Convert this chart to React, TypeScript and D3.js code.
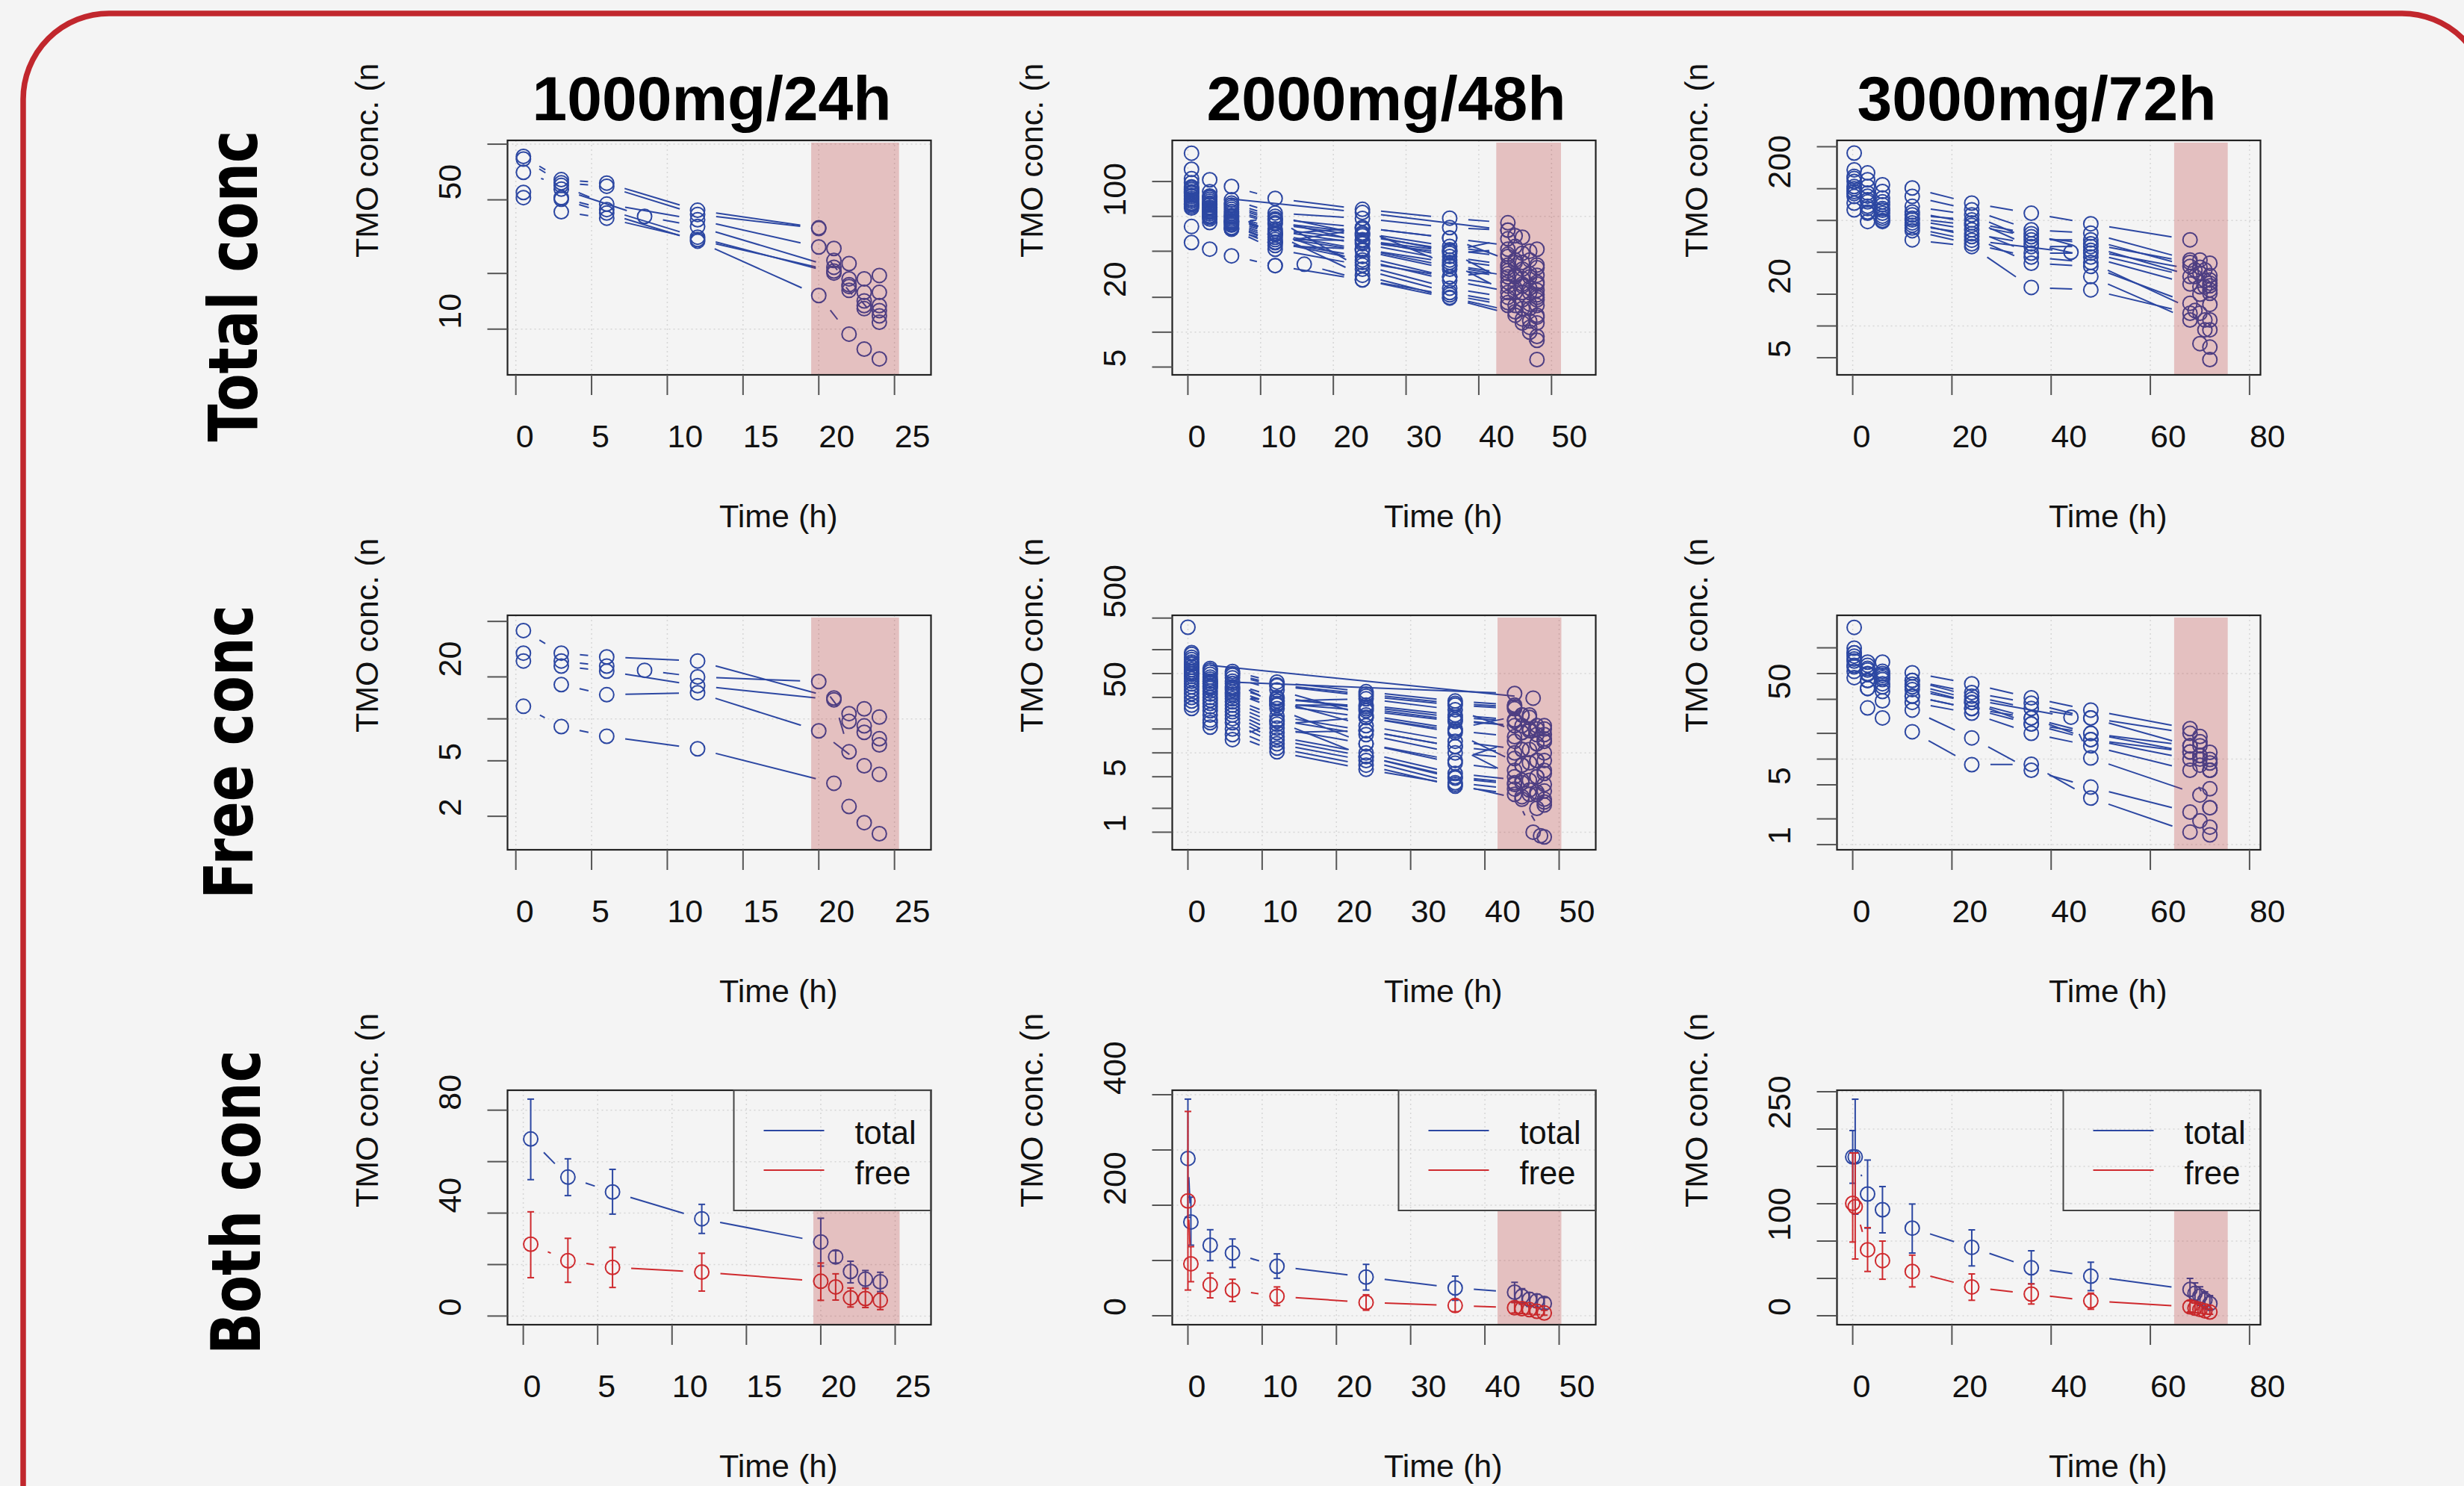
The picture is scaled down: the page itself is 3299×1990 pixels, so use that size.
import * as d3 from "d3";
import React from "react";

type Pt = [number, number];

const W = 3299;
const H = 1990;
const BG = "#f4f4f4";
const BLUE = "#2c47a2";
const RED = "#cf2a2e";
const PINK = "rgba(178,34,34,0.25)";
const FONT = "'Liberation Sans', Arial, Helvetica, sans-serif";

// ---------- data: individual profiles [time (h), conc] ----------
const total1000: Pt[][] = [
  [[0.5, 85.9], [3, 64.3], [6, 61.6], [12, 43.9], [20, 35.3], [21, 27.3], [22, 22.6], [23, 18.7], [24, 19.5]],
  [[0.5, 83.1], [3, 61.8], [6, 59.2], [12, 41.7], [20, 35.0], [21, 23.5], [22, 18.7], [23, 15.8], [24, 15.8]],
  [[0.5, 70.4], [3, 59.8], [6, 47.4], [12, 39.0], [20, 27.8], [22, 17.4], [23, 14.2], [24, 13.4]],
  [[0.5, 54.8], [3, 57.2], [8.5, 40.7], [12, 35.9], [21, 21.6], [22, 16.2], [23, 13.4], [24, 12.6]],
  [[0.5, 51.4], [3, 51.4], [6, 44.3], [12, 31.4], [21, 20.1], [23, 12.9], [24, 11.8]],
  [[3, 50.4], [6, 42.4], [12, 29.9], [20, 15.2], [22, 9.4], [23, 7.8], [24, 6.9]],
  [[3, 43.1], [6, 39.8], [12, 30.5], [21, 20.6], [22, 17.0], [24, 10.9]],
];

const total2000: Pt[][] = [
  [[0.5, 351], [3, 207], [6, 181], [12, 143], [24, 115], [36, 96.5], [44, 88], [46, 66], [48, 52]],
  [[0.5, 255], [3, 163], [6, 139], [12, 107], [24, 96], [36, 80], [44, 76], [45, 68], [47, 50]],
  [[0.5, 212], [3, 150], [6, 130], [12, 100], [24, 70], [36, 50], [44, 64], [46, 48], [48, 38]],
  [[0.5, 195], [3, 145], [6, 125], [12, 95], [24, 80], [36, 65], [45, 55], [47, 42], [48, 36]],
  [[0.5, 180], [3, 140], [6, 120], [12, 92], [24, 60], [36, 48], [44, 52], [46, 40], [48, 31]],
  [[0.5, 170], [3, 135], [6, 115], [12, 88], [24, 72], [36, 55], [44, 47], [45, 42], [47, 32]],
  [[0.5, 163], [3, 130], [6, 110], [12, 86], [24, 68], [36, 51.4], [44, 45], [46, 35], [48, 27]],
  [[0.5, 158], [3, 125], [6, 106], [12, 70], [24, 80], [36, 65], [45, 40], [47, 30], [48, 26]],
  [[0.5, 152], [3, 120], [6, 102], [12, 78], [24, 62.8], [36, 45], [44, 38], [46, 29], [48, 23]],
  [[0.5, 148], [3, 118], [6, 98], [12, 75], [24, 58], [36, 42], [44, 36], [45, 31], [47, 24]],
  [[0.5, 143], [3, 115], [6, 95], [12, 72], [24, 40], [36, 30], [44, 34], [46, 26], [48, 20]],
  [[0.5, 139], [3, 112], [6, 92], [12, 69.7], [24, 52], [36, 37], [45, 30], [47, 22], [48, 19]],
  [[0.5, 135], [3, 108], [6, 90], [12, 66], [24, 50.7], [36, 35], [44, 30], [46, 22], [48, 17]],
  [[0.5, 130], [3, 105], [6, 88], [12, 63], [24, 62], [36, 50], [44, 27], [45, 24], [47, 17.5]],
  [[0.5, 126], [3, 101], [6, 86], [12, 60], [24, 45], [36, 30], [44, 25], [46, 19], [48, 14]],
  [[0.5, 122], [3, 98], [6, 84], [12, 59.5], [24, 42], [36, 28], [45, 22], [47, 16], [48, 13.5]],
  [[0.5, 118], [3, 95], [6, 80], [12, 56], [24, 52], [36, 40], [44, 22], [46, 16], [48, 12]],
  [[0.5, 128], [3, 100], [6, 77.7], [12, 52], [24, 37.9], [36, 24], [44, 20], [45, 17], [47, 12.5]],
  [[0.5, 160], [3, 110], [6, 90], [12, 95], [24, 35], [36, 22], [44, 18], [46, 13], [48, 9.2]],
  [[0.5, 175], [3, 128], [6, 100], [12, 70], [24, 31], [36, 20], [45, 15], [47, 11], [48, 8.5]],
  [[0.5, 81.7], [3, 88.5], [6, 77.7], [12, 59.5], [24, 77.7], [36, 38], [44, 32], [46, 25], [48, 21]],
  [[0.5, 59.5], [3, 52.1], [6, 45.6], [12, 37.6], [24, 28.3], [36, 21], [44, 17], [46, 12], [48, 5.8]],
  [[3, 148], [24, 108], [44, 76]],
  [[12, 37.6], [16, 38.6], [24, 28.3], [36, 19.7], [45, 14], [47, 10]],
];

const total3000: Pt[][] = [
  [[0.3, 435], [3, 282], [6, 218], [12, 203], [24, 146], [36, 117], [48, 93], [68, 65.5], [70, 42.2], [72, 39.3]],
  [[0.3, 302], [3, 243], [6, 188], [12, 169], [24, 126], [36, 81.5], [48, 75.8], [68, 42.2], [71, 34], [72, 25.4]],
  [[0.3, 262], [3, 210], [6, 163], [12, 136], [24, 113], [36, 65.5], [48, 65.5], [68, 36.7], [70, 31.6], [72, 27.3]],
  [[0.3, 234], [3, 182], [6, 141], [12, 113], [24, 101], [36, 56.6], [48, 56.6], [69, 29.4], [71, 23.5], [72, 22]],
  [[0.3, 210], [3, 157], [6, 130], [12, 101], [24, 81.5], [36, 49], [48, 49], [68, 29.4], [70, 23.5], [72, 20.4]],
  [[0.3, 188], [3, 136], [6, 117], [12, 95], [24, 70.3], [36, 39.3], [48, 36.7], [68, 16.4], [70, 13.2], [72, 11.4]],
  [[0.3, 169], [3, 117], [6, 97.7], [12, 65.5], [24, 56.6], [36, 23.2], [48, 22], [68, 13.2], [71, 9.2], [72, 6.3]],
  [[0.3, 146], [3, 97.7], [6, 105], [12, 85], [24, 65], [44, 50], [48, 29.4], [68, 11.4], [70, 6.8], [72, 4.8]],
  [[0.3, 200], [3, 150], [6, 125], [12, 105], [24, 90], [36, 70], [48, 60], [68, 40], [70, 36], [72, 30]],
  [[0.3, 250], [3, 170], [6, 150], [12, 120], [24, 95], [36, 75], [48, 52], [69, 34], [71, 27], [72, 24]],
  [[0.3, 126], [3, 120], [6, 110], [12, 90], [24, 75], [36, 60], [48, 45], [68, 25], [70, 20], [72, 16]],
  [[0.3, 180], [3, 130], [6, 100], [12, 80], [24, 60], [36, 45], [48, 40], [69, 14], [71, 11.4], [72, 9.2]],
];

const free1000: Pt[][] = [
  [[0.5, 43], [3, 29.6], [6, 27.8], [12, 26.0], [21, 14.1], [22, 10.9], [23, 11.8], [24, 10.3]],
  [[0.5, 29.6], [3, 26.0], [6, 23.9], [8.5, 22.3], [12, 20.0], [20, 18.5], [22, 9.6], [23, 8.9], [24, 7.2]],
  [[0.5, 26.0], [3, 23.9], [6, 22.0], [12, 17.3], [21, 13.7], [22, 5.8], [23, 8.0], [24, 6.5]],
  [[3, 17.6], [6, 14.9], [12, 15.4], [20, 8.2], [23, 4.6], [24, 4.0]],
  [[0.5, 12.3], [3, 8.8], [6, 7.5], [12, 6.1], [21, 3.45], [22, 2.35], [23, 1.8], [24, 1.5]],
];

const free2000: Pt[][] = [
  [[0, 383], [0.5, 175], [3, 110], [6, 100], [12, 72], [24, 55], [36, 42], [44, 38], [46, 28], [48, 20]],
  [[0.5, 183], [3, 116], [6, 106], [12, 78], [24, 59], [36, 45], [44, 40], [46, 30], [48, 22]],
  [[0.5, 160], [3, 105], [6, 95], [12, 70], [24, 52], [36, 40], [44, 36], [45, 30], [47, 22]],
  [[0.5, 150], [3, 98], [6, 88], [12, 62], [24, 30], [36, 20], [45, 30], [47, 20], [48, 17]],
  [[0.5, 140], [3, 90], [6, 80], [12, 40], [24, 40], [36, 30], [44, 26], [46, 19], [48, 14]],
  [[0.5, 130], [3, 85], [6, 75], [12, 50], [24, 36], [36, 26], [44, 22], [45, 18], [47, 13]],
  [[0.5, 120], [3, 80], [6, 68], [12, 45], [24, 48], [36, 35], [45, 18], [47, 13], [48, 10]],
  [[0.5, 112], [3, 75], [6, 62], [12, 40], [24, 28], [36, 19], [44, 16], [46, 11], [48, 8]],
  [[0.5, 105], [3, 70], [6, 58], [12, 36], [24, 13], [36, 8], [44, 14], [45, 11], [47, 8]],
  [[0.5, 98], [3, 65], [6, 52], [12, 45], [24, 22], [36, 14], [45, 11], [47, 8], [48, 6]],
  [[0.5, 92], [3, 60], [6, 48], [12, 29], [24, 19], [36, 12], [44, 10], [46, 7.5], [48, 5.5]],
  [[0.5, 86], [3, 55], [6, 44], [12, 26], [24, 17], [36, 10], [44, 8.5], [45, 7], [47, 5]],
  [[0.5, 80], [3, 50], [6, 40], [12, 23], [24, 28], [36, 18], [45, 7], [47, 5], [48, 4]],
  [[0.5, 74], [3, 46], [6, 36], [12, 20.5], [24, 13], [36, 7.4], [44, 6], [46, 4.5], [48, 3.3]],
  [[0.5, 68], [3, 42], [6, 33], [12, 18], [24, 19], [36, 12], [44, 5], [45, 4.2], [47, 3]],
  [[0.5, 62], [3, 38], [6, 30], [12, 16], [24, 10], [36, 5.5], [45, 4.5], [47, 3.2], [48, 2.6]],
  [[0.5, 56], [3, 34], [6, 27], [12, 14.5], [24, 9], [36, 4.8], [44, 4], [46, 3], [48, 2.2]],
  [[0.5, 50], [3, 30], [6, 24], [12, 13], [24, 8], [36, 4.2], [44, 3.5], [45, 2.8], [47, 2]],
  [[0.5, 45], [3, 26], [6, 20], [12, 11.5], [24, 7], [36, 3.8], [44, 3], [46.5, 1.0], [47.5, 0.9]],
  [[0.5, 40], [3, 24], [6, 17], [12, 10.3], [24, 6.2], [36, 4], [45, 2.6], [48, 0.87]],
  [[0.5, 36.2], [3, 21.1], [6, 14.7], [12, 25], [24, 9], [36, 5], [44, 4.2], [46, 3.4], [48, 2.4]],
  [[0.5, 120], [3, 75], [6, 65], [12, 48], [24, 38], [36, 28], [44, 25], [46, 20], [48, 15]],
  [[0.5, 100], [3, 68], [6, 55], [12, 42], [24, 34], [36, 25], [45, 22], [47, 17], [48, 14]],
  [[0.5, 134], [46.5, 49]],
  [[3, 80], [44, 56]],
];

const free3000: Pt[][] = [
  [[0.3, 347], [3, 136], [6, 136], [12, 102], [24, 76], [36, 52], [48, 37.4], [68, 22.7], [70, 18.4], [72, 9.9]],
  [[0.3, 198], [3, 115], [6, 106], [12, 83], [24, 54.5], [36, 39], [48, 30.3], [68, 14.3], [70, 14.3], [72, 7.4]],
  [[0.3, 175], [3, 98], [6, 89.7], [12, 70], [24, 46], [36, 30.3], [48, 20], [68, 12.1], [70, 11], [72, 7.4]],
  [[0.3, 148], [3, 83], [6, 76], [12, 54.5], [24, 39], [36, 25.7], [48, 16.9], [68, 10], [70, 8.5], [72, 4.5]],
  [[0.3, 125], [3, 67], [6, 61.7], [12, 46], [24, 34.4], [36, 20], [48, 14.3], [68, 7.4], [72, 2.7]],
  [[0.3, 106], [3, 39.6], [6, 30.3], [12, 20.9], [24, 8.6], [36, 8.7], [48, 3.5], [68, 1.4], [70, 1.9], [72, 1.3]],
  [[0.3, 89.7], [3, 67], [6, 48], [12, 37.4], [24, 17.7], [36, 7.4], [48, 4.7], [68, 2.4], [72, 1.6]],
  [[0.3, 160], [3, 110], [6, 95], [12, 75], [24, 50], [44, 30.9], [48, 10.3], [70, 3.8], [72, 2.7]],
  [[0.3, 120], [3, 83], [6, 70], [12, 54.5], [24, 39], [36, 30.3], [48, 16.9], [68, 12.1], [70, 10], [72, 7.4]],
  [[0.3, 140], [3, 100], [6, 85], [12, 65], [24, 46], [36, 25.7], [48, 20], [68, 14.3], [70, 11], [72, 9]],
  [[0.3, 175], [3, 125], [6, 100], [12, 83], [24, 60], [36, 45], [48, 30.3], [68, 20], [70, 16], [72, 12]],
];

// ---------- data: mean ± SD ----------
const both1000Time = [0.5, 3, 6, 12, 20, 21, 22, 23, 24];
const both1000Total = [68.8, 54.0, 48.2, 37.8, 28.8, 23.0, 17.3, 14.3, 13.3];
const both1000TotalLo = [53, 46.8, 39.6, 32.1, 19.4, 20.6, 12.9, 10.9, 9.5];
const both1000TotalHi = [84.3, 61.1, 57.0, 43.4, 38.0, 25.4, 21.3, 17.7, 17];
const both1000Free = [27.9, 21.5, 18.9, 17.1, 13.5, 11.3, 7.1, 6.8, 6.1];
const both1000FreeLo = [14.9, 13.1, 11.1, 9.7, 6.1, 6.2, 3.5, 3.3, 2.5];
const both1000FreeHi = [40.5, 30.2, 26.7, 24.4, 20.6, 16.4, 10.9, 10.7, 8.9];

const both2000Time = [0, 0.4, 3, 6, 12, 24, 36, 44, 45, 46, 47, 48];
const both2000Total = [284.6, 169.7, 127.7, 113.6, 89.6, 70, 50.4, 42.6, 35.3, 29.7, 26.9, 22.4];
const both2000TotalLo = [178, 127.7, 99.7, 87.4, 67.8, 46.5, 28, 24, 21, 17, 15, 12];
const both2000TotalHi = [392, 214.6, 155.7, 138.9, 112, 93, 71.7, 60.5, 49, 42, 39, 33];
const both2000Free = [207.8, 94, 56, 46.5, 35.3, 24, 18.5, 14.6, 13, 11, 8, 5];
const both2000FreeLo = [46.5, 61.6, 32.4, 25.8, 18.5, 10, 7.3, 5, 4, 3, 2, 1];
const both2000FreeHi = [369.7, 125, 77.3, 66, 52.2, 38, 29.7, 24, 22, 19, 15, 10];

const both3000Time = [0, 0.5, 3, 6, 12, 24, 36, 48, 68, 69, 70, 71, 72];
const both3000Total = [212.7, 212.7, 163, 142, 117.3, 91.6, 64.2, 53, 35.2, 29.9, 26.3, 21, 16.3];
const both3000TotalLo = [177.4, 136, 117.3, 111, 84, 66.7, 42.7, 33.6, 20, 17, 14, 10, 8];
const both3000TotalHi = [248, 290, 208.5, 173, 149.6, 115, 87, 71.7, 50, 44, 38.8, 32, 27];
const both3000Free = [150.5, 146, 88.3, 73.8, 59.3, 38.6, 29, 19.9, 12, 10.2, 8.4, 6.6, 4.9];
const both3000FreeLo = [98.7, 76, 59.3, 48.9, 38.6, 20.7, 15.7, 8.7, 5, 4, 3.5, 2.5, 2];
const both3000FreeHi = [218, 218, 118, 100, 81.2, 56, 42.7, 30.3, 20, 17, 15, 12, 9];

// ---------- axes / labels ----------
const titles = ["1000mg/24h", "2000mg/48h", "3000mg/72h"];
const rowLabels = ["Total conc", "Free conc", "Both conc"];
const legendLabels = ["total", "free"];
const yTitle = "TMO conc. (n";
const xTitle = "Time (h)";

const xTicks = [
  [0, 5, 10, 15, 20, 25],
  [0, 10, 20, 30, 40, 50],
  [0, 20, 40, 60, 80],
];
const xDomains = [
  [[-0.55, 27.41], [-2.15, 56.08], [-3.17, 82.2]],
  [[-0.55, 27.41], [-2.11, 54.93], [-3.17, 82.2]],
  [[-1.06, 27.41], [-2.11, 54.93], [-3.17, 82.2]],
];
const pinkSpans = [
  [[19.5, 25.3], [42.4, 51.3], [64.8, 75.6]],
  [[19.5, 25.3], [41.7, 50.3], [64.8, 75.6]],
  [[19.5, 25.3], [41.7, 50.3], [64.8, 75.6]],
];
const yDomains = [
  [[5.66, 104.8], [4.28, 453], [3.44, 574]],
  [[1.15, 55.3], [0.6, 542], [0.87, 480]],
  [[-3.37, 87.75], [-16.2, 408.1], [-12, 302]],
];
const yTicks = [
  [[10, 20, 50, 100], [5, 10, 20, 50, 100, 200], [5, 10, 20, 50, 100, 200, 500]],
  [[2, 5, 10, 20, 50], [1, 2, 5, 10, 20, 50, 100, 200, 500], [1, 2, 5, 10, 20, 50, 100, 200]],
  [[0, 20, 40, 60, 80], [0, 100, 200, 300, 400], [0, 50, 100, 150, 200, 250, 300]],
];
const yLabels = [
  [[10, 50], [5, 20, 100], [5, 20, 200]],
  [[2, 5, 20], [1, 5, 50, 500], [1, 5, 50]],
  [[0, 40, 80], [0, 200, 400], [0, 100, 250]],
];

const spaghetti = [
  [total1000, total2000, total3000],
  [free1000, free2000, free3000],
];
const means = [
  {
    t: both1000Time,
    series: [
      { m: both1000Total, lo: both1000TotalLo, hi: both1000TotalHi, color: BLUE },
      { m: both1000Free, lo: both1000FreeLo, hi: both1000FreeHi, color: RED },
    ],
  },
  {
    t: both2000Time,
    series: [
      { m: both2000Total, lo: both2000TotalLo, hi: both2000TotalHi, color: BLUE },
      { m: both2000Free, lo: both2000FreeLo, hi: both2000FreeHi, color: RED },
    ],
  },
  {
    t: both3000Time,
    series: [
      { m: both3000Total, lo: both3000TotalLo, hi: both3000TotalHi, color: BLUE },
      { m: both3000Free, lo: both3000FreeLo, hi: both3000FreeHi, color: RED },
    ],
  },
];

// ---------- layout ----------
const colLeft = [679.5, 1569.5, 2459.5];
const rowTop = [188, 824, 1460];
const BOX_W = 567;
const BOX_H = 314;
const GAP = 25; // R type="b" gap around points
const PT_R = 9.5;
const LEG_W = 264;
const LEG_H = 161;
const titleShift = [-10, 3, -16];
const rowLabelX = [344, 338, 348];
const rowLabelY = [383, 1007, 1610];
const rowLabelLen = [417, 394, 408];

// lines of type "b": shortened around points, dropped if too short
function gapSegs(pts: Pt[]) {
  const out: number[][] = [];
  for (let i = 1; i < pts.length; i++) {
    const [x0, y0] = pts[i - 1];
    const [x1, y1] = pts[i];
    const dx = x1 - x0;
    const dy = y1 - y0;
    const d = Math.hypot(dx, dy);
    if (d <= 2 * GAP + 2) continue;
    const f = GAP / d;
    out.push([x0 + dx * f, y0 + dy * f, x1 - dx * f, y1 - dy * f]);
  }
  return out;
}

function Panel({ r, c }: { r: number; c: number }) {
  const left = colLeft[c];
  const top = rowTop[r];
  const right = left + BOX_W;
  const bottom = top + BOX_H;
  const x = d3.scaleLinear().domain(xDomains[r][c]).range([left, right]);
  const y =
    r < 2
      ? d3.scaleLog().domain(yDomains[r][c]).range([bottom, top])
      : d3.scaleLinear().domain(yDomains[r][c]).range([bottom, top]);

  const gridY =
    r < 2
      ? yTicks[r][c].filter((v) => Math.abs(Math.log10(v) - Math.round(Math.log10(v))) < 1e-9)
      : yTicks[r][c];
  const [p0, p1] = pinkSpans[r][c];
  const pinkTop = r === 2 ? top + LEG_H : top + 3;

  const dataMarks =
    r < 2
      ? spaghetti[r][c].map((s, i) => {
          const pts: Pt[] = s.map(([t, v]) => [x(t), y(v)]);
          return (
            <g key={i} stroke={BLUE} strokeWidth={2} fill="none">
              {gapSegs(pts).map((g, j) => (
                <line key={j} x1={g[0]} y1={g[1]} x2={g[2]} y2={g[3]} />
              ))}
              {pts.map((p, j) => (
                <circle key={`p${j}`} cx={p[0]} cy={p[1]} r={PT_R} />
              ))}
            </g>
          );
        })
      : means[c].series.map((s, i) => {
          const pts: Pt[] = means[c].t.map((t, j) => [x(t), y(s.m[j])]);
          return (
            <g key={i} stroke={s.color} strokeWidth={2} fill="none">
              {gapSegs(pts).map((g, j) => (
                <line key={j} x1={g[0]} y1={g[1]} x2={g[2]} y2={g[3]} />
              ))}
              {means[c].t.map((t, j) => {
                const xx = x(t);
                const ylo = y(s.lo[j]);
                const yhi = y(s.hi[j]);
                return (
                  <g key={`e${j}`}>
                    <line x1={xx} x2={xx} y1={ylo} y2={yhi} />
                    <line x1={xx - 4.5} x2={xx + 4.5} y1={ylo} y2={ylo} />
                    <line x1={xx - 4.5} x2={xx + 4.5} y1={yhi} y2={yhi} />
                  </g>
                );
              })}
              {pts.map((p, j) => (
                <circle key={`p${j}`} cx={p[0]} cy={p[1]} r={PT_R} />
              ))}
            </g>
          );
        });

  return (
    <g>
      {/* grid */}
      <g stroke="#d6d6d6" strokeWidth={1.5} strokeDasharray="2 4">
        {xTicks[c].map((t) => (
          <line key={`gx${t}`} x1={x(t)} x2={x(t)} y1={top} y2={bottom} />
        ))}
        {gridY.map((v) => (
          <line key={`gy${v}`} x1={left} x2={right} y1={y(v)} y2={y(v)} />
        ))}
      </g>
      {dataMarks}
      <rect x={x(p0)} y={pinkTop} width={x(p1) - x(p0)} height={bottom - pinkTop} fill={PINK} />
      <rect x={left} y={top} width={BOX_W} height={BOX_H} fill="none" stroke="#222" strokeWidth={2.2} />
      {/* ticks */}
      <g stroke="#555" strokeWidth={2}>
        {xTicks[c].map((t) => (
          <line key={`tx${t}`} x1={x(t)} x2={x(t)} y1={bottom} y2={bottom + 27} />
        ))}
        {yTicks[r][c].map((v) => (
          <line key={`ty${v}`} x1={left - 27} x2={left} y1={y(v)} y2={y(v)} />
        ))}
      </g>
      <g fontSize={43} fill="#111">
        {xTicks[c].map((t) => (
          <text key={`lx${t}`} x={x(t)} y={bottom + 97} textAnchor="start">
            {t}
          </text>
        ))}
        {yLabels[r][c].map((v) => (
          <text
            key={`ly${v}`}
            transform={`translate(${left - 63},${y(v)}) rotate(-90)`}
            textAnchor="start"
          >
            {v}
          </text>
        ))}
        <text x={left + BOX_W / 2} y={bottom + 204} textAnchor="start">
          {xTitle}
        </text>
        <text transform={`translate(${left - 174},${top + BOX_H / 2}) rotate(-90)`} textAnchor="start">
          {yTitle}
        </text>
      </g>
      {r === 2 && (
        <g>
          <rect x={right - LEG_W} y={top} width={LEG_W} height={LEG_H} fill="none" stroke="#444" strokeWidth={2} />
          {legendLabels.map((lab, i) => (
            <g key={lab}>
              <line
                x1={right - LEG_W + 40}
                x2={right - LEG_W + 121}
                y1={top + 54 + i * 53}
                y2={top + 54 + i * 53}
                stroke={i === 0 ? BLUE : RED}
                strokeWidth={2}
              />
              <text x={right - LEG_W + 162} y={top + 72 + i * 53.5} fontSize={43.5} fill="#111">
                {lab}
              </text>
            </g>
          ))}
        </g>
      )}
    </g>
  );
}

export default function App() {
  return (
    <svg
      width={W}
      height={H}
      viewBox={`0 0 ${W} ${H}`}
      style={{ position: "absolute", left: 0, top: 0, display: "block" }}
      fontFamily={FONT}
    >
      <rect width={W} height={H} fill={BG} />
      <rect x={31} y={18} width={3300} height={2100} rx={115} fill="none" stroke="#c1272d" strokeWidth={7.5} />
      {rowLabels.map((lab, i) => (
        <text
          key={lab}
          transform={`translate(${rowLabelX[i]},${rowLabelY[i]}) rotate(-90)`}
          textAnchor="middle"
          fontFamily="'DejaVu Sans', sans-serif"
          fontWeight="bold"
          fontSize={90}
          textLength={rowLabelLen[i]}
          lengthAdjust="spacingAndGlyphs"
          fill="#000"
        >
          {lab}
        </text>
      ))}
      {titles.map((t, i) => (
        <text
          key={t}
          x={colLeft[i] + BOX_W / 2 + titleShift[i]}
          y={161}
          textAnchor="middle"
          fontWeight="bold"
          fontSize={84}
          fill="#000"
        >
          {t}
        </text>
      ))}
      {[0, 1, 2].map((r) => [0, 1, 2].map((c) => <Panel key={`${r}-${c}`} r={r} c={c} />))}
    </svg>
  );
}
